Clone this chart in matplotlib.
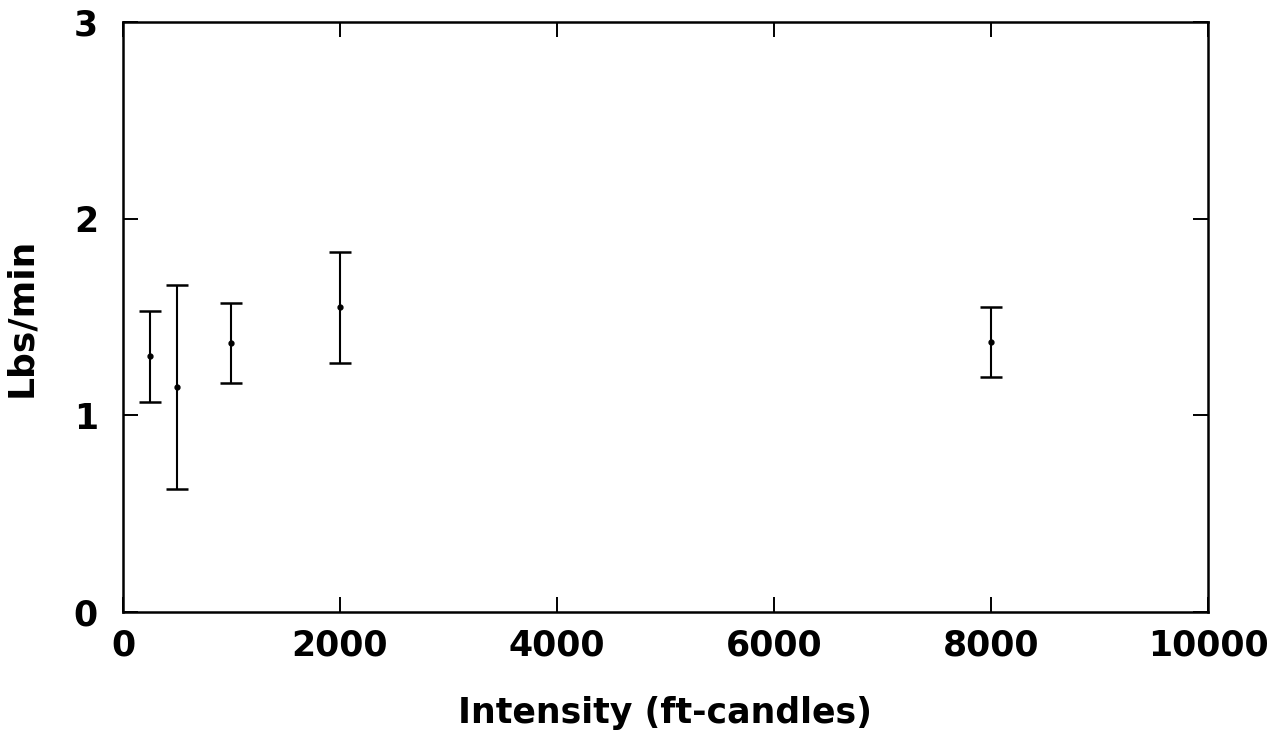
import matplotlib
matplotlib.use("Agg")
import matplotlib.pyplot as plt

# light intensity (ft-candles) vs rate (lbs/min)
intensity = [250, 500, 1000, 2000, 8000]
rate = [1.30, 1.145, 1.366, 1.549, 1.374]
rate_err = [0.232, 0.52, 0.204, 0.283, 0.178]

xticks = [0, 2000, 4000, 6000, 8000, 10000]
yticks = [0, 1, 2, 3]

plt.rcParams['font.family'] = 'DejaVu Sans'
plt.rcParams['font.weight'] = 'bold'

fig = plt.figure(figsize=(12.86, 7.48), dpi=100)
ax = fig.add_axes([0.0956, 0.1818, 0.8437, 0.7888])

ax.errorbar(intensity, rate, yerr=rate_err, fmt='o', color='black',
            markersize=3.5, elinewidth=1.5, capsize=8, capthick=1.8)

ax.set_xlim(0, 10000)
ax.set_ylim(0, 3)
ax.set_xticks(xticks)
ax.set_yticks(yticks)
ax.set_xticklabels([str(t) for t in xticks], fontsize=25, fontweight='heavy')
ax.set_yticklabels([str(t) for t in yticks], fontsize=25, fontweight='heavy')
ax.tick_params(direction='in', length=11, width=1.4, top=True, right=True)
ax.tick_params(axis='x', pad=12)
ax.tick_params(axis='y', pad=18)
for s in ax.spines.values():
    s.set_linewidth(1.8)

ax.set_xlabel("Intensity (ft-candles)", fontsize=25, fontweight='heavy', labelpad=24)
ax.set_ylabel("Lbs/min", fontsize=26, fontweight='heavy', labelpad=26)

fig.savefig("out.png", dpi=100)
